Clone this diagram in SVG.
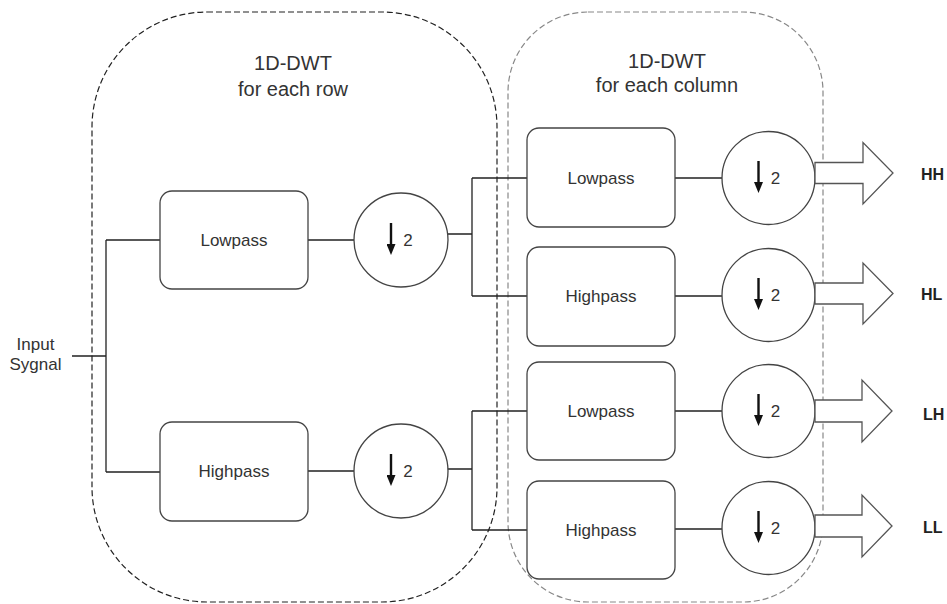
<svg xmlns="http://www.w3.org/2000/svg" width="947" height="604" viewBox="0 0 947 604">
<defs>
<style>
.box{fill:#fff;stroke:#444;stroke-width:1.3}
.circ{fill:#fff;stroke:#444;stroke-width:1.3}
.wire{fill:none;stroke:#222;stroke-width:1.3}
.dn{stroke:#111;stroke-width:2.4}
.blk{fill:#fff;stroke:#555;stroke-width:1.3;stroke-linejoin:miter}
.t{font-family:"Liberation Sans",Arial,sans-serif;fill:#333;text-anchor:middle}
.lbl{font-size:17px}
.ttl{font-size:20px}
.out{font-family:"Liberation Sans",Arial,sans-serif;font-size:16px;font-weight:bold;fill:#222}
</style>
<marker id="ah" viewBox="0 0 11 9" refX="1" refY="4.5" markerWidth="11" markerHeight="9" markerUnits="userSpaceOnUse" orient="auto">
<path d="M0,0 L11,4.5 L0,9 Z" fill="#111"/>
</marker>
</defs>
<rect width="947" height="604" fill="#fff"/>

<g id="container-rows">
<rect x="92" y="12" width="405" height="590" rx="115" ry="115" fill="none" stroke="#222" stroke-width="1.2" stroke-dasharray="6 3"/>
<text class="t ttl" x="293" y="70">1D-DWT</text>
<text class="t ttl" x="293" y="96">for each row</text>
</g>
<g id="container-cols">
<rect x="508" y="12" width="315" height="590" rx="80" ry="80" fill="none" stroke="#888" stroke-width="1.2" stroke-dasharray="6 3"/>
<text class="t ttl" x="667" y="68">1D-DWT</text>
<text class="t ttl" x="667" y="92">for each column</text>
</g>

<g id="connectors">
<path class="wire" d="M72,356 H106 M106,240 V472 M106,240 H160 M106,472 H160"/>
<path class="wire" d="M308,240 H354 M308,471 H354"/>
<path class="wire" d="M447,234 H472 M472,178 V296 M472,178 H527 M472,296 H527"/>
<path class="wire" d="M447,469 H472 M472,411 V530 M472,411 H527 M472,530 H527"/>
<path class="wire" d="M675,178 H722 M675,296 H722 M675,411 H722 M675,529 H722"/>
</g>

<g id="input">
<text class="t lbl" x="35.5" y="350">Input</text>
<text class="t lbl" x="35.5" y="370">Sygnal</text>
</g>

<g id="row-lowpass">
<rect class="box" x="160" y="191" width="148" height="98" rx="12"/>
<text class="t lbl" x="234" y="246">Lowpass</text>
</g>
<g id="row-highpass">
<rect class="box" x="160" y="422" width="148" height="99" rx="12"/>
<text class="t lbl" x="234" y="477">Highpass</text>
</g>
<g id="row-down-1">
<circle class="circ" cx="401" cy="240" r="47"/>
<line class="dn" x1="391" y1="223" x2="391" y2="245" marker-end="url(#ah)"/>
<text class="t lbl" x="408" y="246">2</text>
</g>
<g id="row-down-2">
<circle class="circ" cx="401" cy="471" r="47"/>
<line class="dn" x1="391" y1="454" x2="391" y2="476" marker-end="url(#ah)"/>
<text class="t lbl" x="408" y="477">2</text>
</g>

<g id="col-lowpass-1">
<rect class="box" x="527" y="128" width="148" height="99" rx="12"/>
<text class="t lbl" x="601" y="184">Lowpass</text>
</g>
<g id="col-highpass-1">
<rect class="box" x="527" y="247" width="148" height="99" rx="12"/>
<text class="t lbl" x="601" y="302">Highpass</text>
</g>
<g id="col-lowpass-2">
<rect class="box" x="527" y="362" width="148" height="98" rx="12"/>
<text class="t lbl" x="601" y="417">Lowpass</text>
</g>
<g id="col-highpass-2">
<rect class="box" x="527" y="481" width="148" height="98" rx="12"/>
<text class="t lbl" x="601" y="536">Highpass</text>
</g>

<g id="col-down-1">
<circle class="circ" cx="768.5" cy="178" r="46.5"/>
<line class="dn" x1="758.5" y1="161" x2="758.5" y2="183" marker-end="url(#ah)"/>
<text class="t lbl" x="775.5" y="184">2</text>
</g>
<g id="col-down-2">
<circle class="circ" cx="768.5" cy="295" r="46.5"/>
<line class="dn" x1="758.5" y1="278" x2="758.5" y2="300" marker-end="url(#ah)"/>
<text class="t lbl" x="775.5" y="301">2</text>
</g>
<g id="col-down-3">
<circle class="circ" cx="768.5" cy="411" r="46.5"/>
<line class="dn" x1="758.5" y1="394" x2="758.5" y2="416" marker-end="url(#ah)"/>
<text class="t lbl" x="775.5" y="417">2</text>
</g>
<g id="col-down-4">
<circle class="circ" cx="768.5" cy="528" r="46.5"/>
<line class="dn" x1="758.5" y1="511" x2="758.5" y2="533" marker-end="url(#ah)"/>
<text class="t lbl" x="775.5" y="534">2</text>
</g>

<g id="out-HH">
<polygon class="blk" points="815,162.5 863,162.5 863,142.5 893,173 863,204 863,183.5 815,183.5"/>
<text class="out" x="921" y="180">HH</text>
</g>
<g id="out-HL">
<polygon class="blk" points="815,283 863,283 863,263 893,293.5 863,324 863,304 815,304"/>
<text class="out" x="921" y="300">HL</text>
</g>
<g id="out-LH">
<polygon class="blk" points="815,400 862,400 862,380 892,411 862,442 862,422 815,422"/>
<text class="out" x="923" y="420">LH</text>
</g>
<g id="out-LL">
<polygon class="blk" points="815,515 862,515 862,495 892,526 862,557 862,537 815,537"/>
<text class="out" x="923" y="533">LL</text>
</g>
</svg>
